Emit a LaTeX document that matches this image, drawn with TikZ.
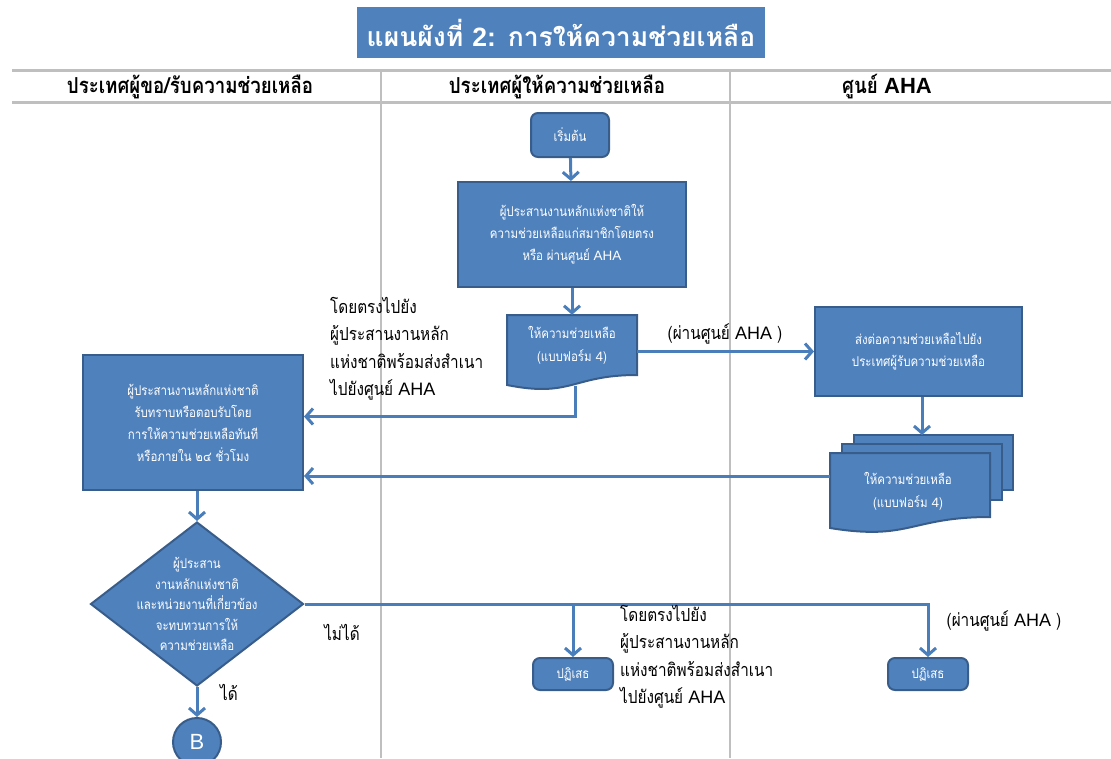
\documentclass[tikz,border=0pt]{standalone}
\usepackage{fontspec}
\setmainfont[Script=Thai]{Loma}
\newfontfamily\condfont[Script=Thai,FakeStretch=0.85]{Loma}
\newfontfamily\latfont{Liberation Sans}
\newcommand{\AHA}{{\latfont AHA}}
\usetikzlibrary{arrows.meta,shapes.geometric,calc}
\definecolor{boxblue}{RGB}{79,129,189}
\definecolor{boxedge}{RGB}{56,93,138}
\definecolor{lineblue}{RGB}{74,126,187}
\definecolor{grayline}{RGB}{191,191,191}
\tikzset{
  box/.style={draw=boxedge, line width=2pt, fill=boxblue, text=white,
    font=\condfont\fontsize{13.5}{22}\selectfont, align=center, inner sep=0pt},
  rbox/.style={box, rounded corners=7pt},
  shapefill/.style={draw=boxedge, line width=2pt, fill=boxblue},
  intext/.style={text=white, font=\condfont\fontsize{13.5}{23}\selectfont, align=center, inner sep=0pt},
  conn/.style={draw=lineblue, line width=3pt, -{Straight Barb[length=7pt,width=16pt]}},
  lbl/.style={font=\condfont\fontsize{18}{27.5}\selectfont, align=left, inner sep=0pt},
  hdr/.style={font=\condfont\bfseries\fontsize{22}{24}\selectfont, inner sep=0pt},
  divider/.style={draw=grayline, line width=2pt}
}
\begin{document}
\begin{tikzpicture}[x=1pt,y=-1pt]
\useasboundingbox (0,0) rectangle (1111,758);
% title
\node[fill=boxblue, minimum width=408, minimum height=51, text=white,
  font=\bfseries\fontsize{26.5}{28}\selectfont, inner sep=0pt] (title) at (561,32.5)
  {แผนผังที่ {\latfont 2:} การให้ความช่วยเหลือ};
% lanes
\draw[divider, line width=3pt] (12,70) -- (1111,70);
\draw[divider, line width=3pt] (12,102) -- (1111,102);
\draw[divider] (381,70) -- (381,758);
\draw[divider] (730,70) -- (730,758);
\node[hdr] (h1) at (190,87) {ประเทศผู้ขอ/รับความช่วยเหลือ};
\node[hdr] (h2) at (557,87) {ประเทศผู้ให้ความช่วยเหลือ};
\node[hdr] (h3) at (887,87) {ศูนย์ {\latfont AHA}};
% middle lane
\node[rbox, minimum width=78, minimum height=44] (start) at (570,135) {เริ่มต้น};
\node[box, minimum width=228, minimum height=105] (give) at (572,234.5)
  {ผู้ประสานงานหลักแห่งชาติให้\\ความช่วยเหลือแก่สมาชิกโดยตรง\\หรือ ผ่านศูนย์ \AHA};
\draw[shapefill] (507,315) -- (637,315) -- (637,375)
  .. controls (572,375) and (572,398) .. (507,385) -- cycle;
\node[intext, minimum width=130, minimum height=60] (doc) at (572,345)
  {ให้ความช่วยเหลือ\\(แบบฟอร์ม {\latfont 4})};
\coordinate (docbot) at (575,386);
% AHA lane
\node[box, minimum width=207, minimum height=89] (aha) at (918.5,351.5)
  {ส่งต่อความช่วยเหลือไปยัง\\ประเทศผู้รับความช่วยเหลือ};
\draw[shapefill] (854,435) rectangle (1013,490);
\draw[shapefill] (842,444) rectangle (1002,500);
\draw[shapefill] (830,453) -- (990,453) -- (990,517)
  .. controls (910,517) and (910,541) .. (830,528) -- cycle;
\node[intext, minimum width=160, minimum height=46] (mdoc) at (908,491)
  {ให้ความช่วยเหลือ\\(แบบฟอร์ม {\latfont 4})};
\coordinate (mdocW) at (830,476);
\coordinate (mdocN) at (922,435);
% left lane
\node[box, minimum width=220, minimum height=135] (lbox) at (193,422.5)
  {ผู้ประสานงานหลักแห่งชาติ\\รับทราบหรือตอบรับโดย\\การให้ความช่วยเหลือทันที\\หรือภายใน ๒๔ ชั่วโมง};
\node[diamond, draw=boxedge, line width=2pt, fill=boxblue, text=white,
  font=\condfont\fontsize{13.5}{20.5}\selectfont, align=center,
  minimum width=213, minimum height=164, inner sep=-40pt] (diam) at (197,604)
  {ผู้ประสาน\\งานหลักแห่งชาติ\\และหน่วยงานที่เกี่ยวข้อง\\จะทบทวนการให้\\ความช่วยเหลือ};
\node[circle, draw=boxedge, line width=2pt, fill=boxblue, text=white,
  font=\latfont\fontsize{22}{24}\selectfont, minimum size=48, inner sep=0pt] (B) at (197,742) {B};
\node[rbox, minimum width=80, minimum height=32] (rej1) at (573,674) {ปฏิเสธ};
\node[rbox, minimum width=80, minimum height=32] (rej2) at (928,674) {ปฏิเสธ};
% connectors
\draw[conn] (start) -- (give);
\draw[conn] (give.south -| doc.north) -- (doc.north);
\draw[conn] (docbot) |- ($(lbox.east)+(0,-6)$);
\draw[conn] (doc.east |- aha.west) -- (aha.west);
\draw[conn] (mdocN |- aha.south) -- (mdocN);
\draw[conn] (mdocW) -- (mdocW -| lbox.east);
\draw[conn] (lbox.south -| diam.north) -- (diam.north);
\draw[conn] (diam.east) -| (rej2.north);
\draw[conn] (diam.east -| rej1.north) -- (rej1.north);
\draw[conn] (diam.south) -- (B.north);
% labels
\node[lbl, anchor=north west] (l1) at (330,297)
  {โดยตรงไปยัง\\ผู้ประสานงานหลัก\\แห่งชาติพร้อมส่งสำเนา\\ไปยังศูนย์ \AHA};
\node[lbl] (l2) at (725,334) {(ผ่านศูนย์ \AHA\ )};
\node[lbl] (l3) at (342,632) {ไม่ได้};
\node[lbl] (l4) at (229,692) {ได้};
\node[lbl, anchor=north west] (l5) at (620,605)
  {โดยตรงไปยัง\\ผู้ประสานงานหลัก\\แห่งชาติพร้อมส่งสำเนา\\ไปยังศูนย์ \AHA};
\node[lbl] (l6) at (1004,621) {(ผ่านศูนย์ \AHA\ )};
\end{tikzpicture}
\end{document}
